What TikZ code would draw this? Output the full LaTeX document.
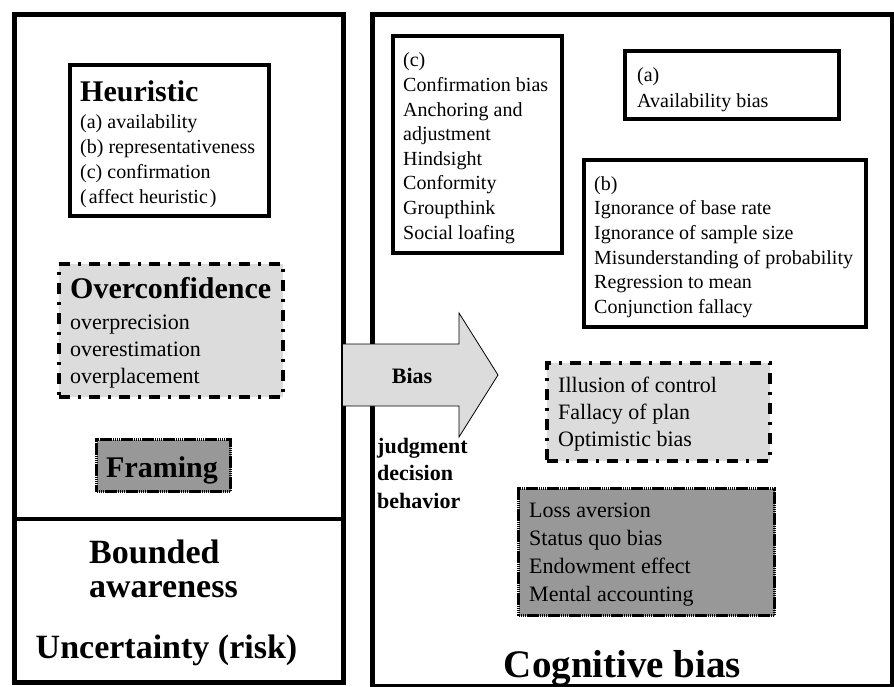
\documentclass[tikz,border=0pt]{standalone}
\usepackage{fontspec}
\setmainfont{Liberation Serif}
\definecolor{lightfill}{RGB}{220,220,220}
\definecolor{darkfill}{RGB}{152,152,152}
\begin{document}
\begin{tikzpicture}[x=1pt,y=-1pt,
  outerbox/.style={draw, line width=4.5pt, inner sep=0pt, anchor=north west},
  outerline/.style={line width=4.5pt},
  innerbox/.style={draw, line width=3.5pt, inner sep=0pt, anchor=north west},
  dashdotbox/.style={draw, line width=4pt, fill=lightfill, inner sep=0pt, anchor=north west,
     dash pattern=on 11pt off 8pt on 3pt off 8pt},
  dotbox/.style={draw, line width=3pt, fill=darkfill, inner sep=0pt, anchor=north west,
     dash pattern=on 1.6pt off 0.5pt},
  arrowshape/.style={draw, line width=0.8pt, fill=lightfill, line join=miter},
  txttwenty/.style={font=\fontsize{20}{24.7}\selectfont, align=left, inner sep=0pt, anchor=base west},
  txttwentytwo/.style={font=\fontsize{22}{27}\selectfont, align=left, inner sep=0pt, anchor=base west},
  titlethirty/.style={font=\fontsize{30}{30}\selectfont\bfseries, inner sep=0pt},
  boldbig/.style={font=\fontsize{34}{34}\selectfont\bfseries, align=left, inner sep=0pt},
  boldsmall/.style={font=\fontsize{22}{27.5}\selectfont\bfseries, align=left, inner sep=0pt}
]
\useasboundingbox (0,0) rectangle (894,686);

% (multi-line text nodes are anchored at the baseline of their last line)
% inner boxes of the left panel
\node[innerbox, minimum width=199pt, minimum height=151pt] (heurbox) at (68,63) {};
\node[titlethirty, anchor=base west] (heurtitle) at (80,101) {Heuristic};
\node[txttwenty, font=\fontsize{20}{25}\selectfont] (heurlist) at (80,203)
  {(a) availability\\(b) representativeness\\(c) confirmation\\(\kern2pt affect heuristic\kern2pt)};

\node[dashdotbox, minimum width=224pt, minimum height=133pt] (overbox) at (57,262) {};
\node[titlethirty, anchor=base west] (overtitle) at (70,298) {Overconfidence};
\node[txttwentytwo] (overlist) at (70,383) {overprecision\\overestimation\\overplacement};

\node[dotbox, minimum width=134pt, minimum height=52pt] (frambox) at (95,438) {};
\node[titlethirty, anchor=base] (framtxt) at (162,477) {Framing};

\node[boldbig, anchor=base west] (bounded) at (89,597) {Bounded\\awareness};
\node[boldbig, anchor=base] (uncert) at (166.5,658) {Uncertainty (risk)};

% inner boxes of the right panel
\node[innerbox, minimum width=169pt, minimum height=217pt] (cbox) at (391,34) {};
\node[txttwenty, font=\fontsize{20}{24.6}\selectfont] (ctxt) at (403,239)
  {(c)\\Confirmation bias\\Anchoring and\\adjustment\\Hindsight\\Conformity\\Groupthink\\Social loafing};

\node[innerbox, minimum width=214pt, minimum height=68pt] (abox) at (623,49) {};
\node[txttwenty, font=\fontsize{20}{25.5}\selectfont] (atxt) at (637,107) {(a)\\Availability bias};

\node[innerbox, minimum width=282pt, minimum height=167pt] (bbox) at (582,158) {};
\node[txttwenty] (btxt) at (594,313.5)
  {(b)\\Ignorance of base rate\\Ignorance of sample size\\Misunderstanding of probability\\Regression to mean\\Conjunction fallacy};

\node[dashdotbox, minimum width=223pt, minimum height=98pt] (illbox) at (545,361) {};
\node[txttwentytwo] (illtxt) at (558,446) {Illusion of control\\Fallacy of plan\\Optimistic bias};

\node[dotbox, minimum width=256pt, minimum height=127pt] (lossbox) at (517,487) {};
\node[txttwentytwo, font=\fontsize{22}{27.7}\selectfont] (losstxt) at (529,601)
  {Loss aversion\\Status quo bias\\Endowment effect\\Mental accounting};

\node[font=\fontsize{39}{39}\selectfont\bfseries, inner sep=0pt, anchor=base] (cogtxt) at (622.5,677) {Cognitive bias};

\node[boldsmall, anchor=base west] (jdb) at (377,508) {judgment\\decision\\behavior};

% outer panels
\node[outerbox, minimum width=329pt, minimum height=668pt] (leftbox) at (12,12) {};
\coordinate (divy) at (0,519);
\draw[outerline] (leftbox.west |- divy) -- (leftbox.east |- divy);
\node[outerbox, minimum width=520pt, minimum height=672pt] (rightbox) at (370,12) {};

% arrow
\coordinate (atail1) at (343,344);
\coordinate (atail2) at (343,406);
\coordinate (atip) at (498,375);
\draw[arrowshape] (atail1) -- (459,344) -- (459,313) -- (atip) -- (459,437) -- (459,406) -- (atail2);
\node[font=\fontsize{22}{22}\selectfont\bfseries, inner sep=0pt, anchor=base] (biastxt) at (412,383) {Bias};
\end{tikzpicture}
\end{document}
